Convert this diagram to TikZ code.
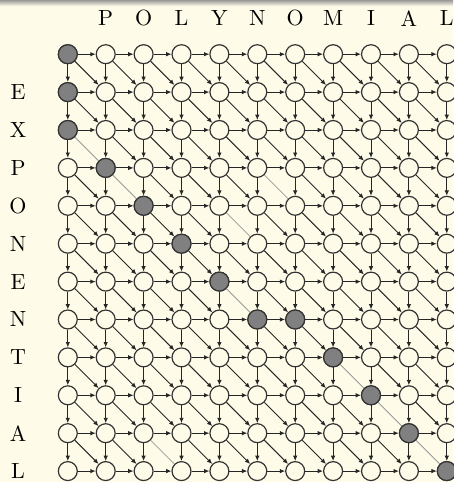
\documentclass[tikz,border=0pt]{standalone}
\usetikzlibrary{arrows.meta}
\definecolor{creme}{RGB}{254,252,232}

\begin{document}
\begin{tikzpicture}[x=1cm,y=-1cm,
  etat/.style={circle,draw=black!80,line width=0.9pt,fill=creme,minimum size=0.5cm,inner sep=0pt},
  choisi/.style={etat,fill=black!50},
  fl/.style={-{Latex[length=1.4mm,width=1.2mm]},line width=0.7pt,black!85},
  egal/.style={line width=0.6pt,black!40},
  lettre/.style={scale=1.65,transform shape,inner sep=0pt}]

%fond
\fill[creme] (0,0) rectangle (11.953,12.718);
\useasboundingbox (0,0) rectangle (11.953,12.718);
\shade[top color=black!40,bottom color=creme] (0,0) rectangle (11.953,0.16);

%lettres codees par leur rang dans l'alphabet
\def\expo{{5,24,16,15,14,5,14,20,9,1,12}}
\def\poly{{16,15,12,25,14,15,13,9,1,12}}

%les mots
\foreach \l [count=\c] in {P,O,L,Y,N,O,M,I,A,L}
  \node[lettre] (p-\c) at (1.789+\c,0.483) {\l};
\foreach \l [count=\r] in {E,X,P,O,N,E,N,T,I,A,L}
  \node[lettre] (e-\r) at (0.475,1.43+\r) {\l};

%la grille
\foreach \r in {0,...,11}
  \foreach \c in {0,...,10}
    \node[etat] (n-\r-\c) at (1.789+\c,1.43+\r) {};

%le chemin
\foreach \r/\c in {0/0,1/0,2/0,3/1,4/2,5/3,6/4,7/5,7/6,8/7,9/8,10/9,11/10}
  \node[choisi] (g-\r-\c) at (n-\r-\c) {};

%aretes horizontales
\foreach \r in {0,...,11}{
  \foreach \c in {0,...,9}{
    \pgfmathtruncatemacro\cc{\c+1}
    \draw[fl] (n-\r-\c) -- (n-\r-\cc);
  }
}

%aretes verticales
\foreach \r in {0,...,10}{
  \foreach \c in {0,...,10}{
    \pgfmathtruncatemacro\rr{\r+1}
    \draw[fl] (n-\r-\c) -- (n-\rr-\c);
  }
}

%diagonales (grises si les lettres sont egales)
\foreach \r in {0,...,10}{
  \foreach \c in {0,...,9}{
    \pgfmathtruncatemacro\rr{\r+1}
    \pgfmathtruncatemacro\cc{\c+1}
    \pgfmathtruncatemacro\same{\expo[\r]==\poly[\c]}
    \ifnum\same=1
      \draw[egal] (n-\r-\c) -- (n-\rr-\cc);
    \else
      \draw[fl] (n-\r-\c) -- (n-\rr-\cc);
    \fi
  }
}

\end{tikzpicture}
\end{document}
